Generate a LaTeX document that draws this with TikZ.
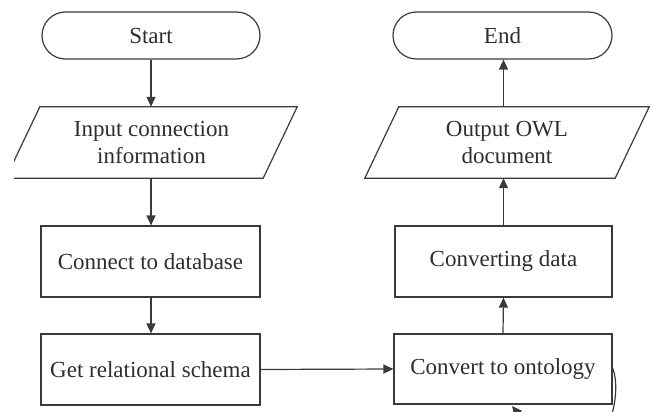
\documentclass[tikz,border=0pt]{standalone}
\usepackage{fontspec}
\setmainfont{Liberation Serif}
\usetikzlibrary{arrows.meta}
\definecolor{ln}{HTML}{3A3A3A}
\definecolor{tx}{HTML}{2E2E2E}
\begin{document}
\begin{tikzpicture}[x=1pt,y=-1pt,
  lc/.style={draw=ln, line width=1.2pt},
  txt/.style={text=tx, font=\fontsize{23}{26.5}\selectfont, align=center, inner sep=0pt},
  term/.style={lc, txt, rounded corners=23.5pt, minimum width=218pt, minimum height=47pt},
  proc/.style={lc, txt, minimum width=219pt, minimum height=71pt},
  io/.style={txt, minimum height=71pt},
  arr/.style={draw=ln, line width=1.2pt, -{Triangle[length=10pt,width=9pt]}}]
\useasboundingbox (0,0) rectangle (654,412);
\begin{scope}
\clip (14,0) rectangle (654,412);
% left column
\node[term] (start) at (151,35.5) {Start};
\node[io, minimum width=257pt] (in) at (151.5,142.5) {Input connection\\information};
\draw[lc] ([xshift=17pt]in.north west) -- ([xshift=17pt]in.north east)
  -- ([xshift=-17pt]in.south east) -- ([xshift=-17pt]in.south west) -- cycle;
\node[proc] (con) at (150.5,261.5) {Connect to database};
\node[proc] (get) at (150.5,369.5) {Get relational schema};
% right column
\node[term, minimum width=219pt] (end) at (502.5,35.5) {End};
\node[io, minimum width=250pt] (out) at (507,142.5) {Output OWL\\document};
\draw[lc] ([xshift=17pt]out.north west) -- ([xshift=17pt]out.north east)
  -- ([xshift=-17pt]out.south east) -- ([xshift=-17pt]out.south west) -- cycle;
\node[proc, minimum width=217pt] (cd) at (503.5,261.5) {Converting data};
\node[proc, minimum width=218pt, minimum height=70pt] (cto) at (503,369) {Convert to ontology};
% connectors
\draw[arr] (start.south) -- (start.south |- in.north);
\draw[arr] (in.south -| start.south) -- (start.south |- con.north);
\draw[arr] (con.south -| start.south) -- (start.south |- get.north);
\draw[arr] (get.east) -- (cto.west);
\draw[arr] (cto.north) -- (cd.south);
\draw[arr] (cd.north) -- (cd.north |- out.south);
\draw[arr] (cd.north |- out.north) -- (cd.north |- end.south);
% partial loop at the bottom right
\coordinate (lp) at ([yshift=1pt]cto.east);
\draw[arr] (lp) .. controls +(5,12) and +(4,-14) .. (612,414)
  .. controls (595,432) and (530,428) .. (512,406);
\end{scope}
\end{tikzpicture}
\end{document}
